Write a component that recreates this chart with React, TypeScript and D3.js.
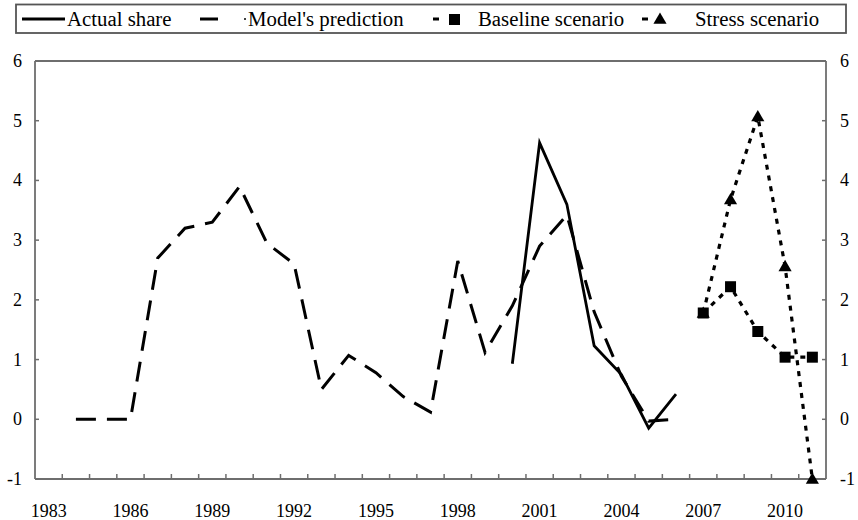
import React from 'react';
import * as d3 from 'd3';

const years = [
  1983, 1984, 1985, 1986, 1987, 1988, 1989, 1990, 1991, 1992,
  1993, 1994, 1995, 1996, 1997, 1998, 1999, 2000, 2001, 2002,
  2003, 2004, 2005, 2006, 2007, 2008, 2009, 2010, 2011
];
const yTicks = [-1, 0, 1, 2, 3, 4, 5, 6];
const xLabelYears = [1983, 1986, 1989, 1992, 1995, 1998, 2001, 2004, 2007, 2010];

const actualYears = [2000, 2001, 2002, 2003, 2004, 2005, 2006];
const actualShare = [0.93, 4.63, 3.6, 1.23, 0.75, -0.15, 0.42];

const modelYears = [
  1984, 1985, 1986, 1987, 1988, 1989, 1990, 1991, 1992, 1993, 1994, 1995,
  1996, 1997, 1998, 1999, 2000, 2001, 2002, 2003, 2004, 2005, 2006
];
const modelPrediction = [
  0, 0, 0, 2.7, 3.2, 3.3, 3.9, 2.95, 2.6, 0.5, 1.07, 0.78,
  0.38, 0.12, 2.65, 1.12, 1.9, 2.9, 3.42, 1.8, 0.72, -0.03, 0
];

const scenarioYears = [2007, 2008, 2009, 2010, 2011];
const baselineScenario = [1.78, 2.22, 1.47, 1.04, 1.04];
const stressScenario = [1.78, 3.68, 5.07, 2.56, -1];

const W = 858;
const H = 520;
const margin = {left: 35, right: 32, top: 61, bottom: 41};
const FONT = "'Liberation Serif', 'Times New Roman', serif";
const AXIS = '#6e6e6e';

export default function App() {
  const x = d3.scaleBand<number>()
    .domain(years)
    .range([margin.left, W - margin.right])
    .paddingInner(0)
    .paddingOuter(0);
  const y = d3.scaleLinear()
    .domain([-1, 6])
    .range([H - margin.bottom, margin.top]);

  const cx = (yr: number) => (x(yr) as number) + x.bandwidth() / 2;

  const line = (xs: number[], vals: number[]) =>
    d3.line<number>()
      .x((d, i) => cx(xs[i]))
      .y(d => y(d))(vals) as string;

  const x0 = margin.left;
  const x1 = W - margin.right;
  const yTop = y(6);
  const yBot = y(-1);

  const tri = d3.symbol().type(d3.symbolTriangle).size(75)() as string;
  const txt = {fontFamily: FONT};
  const LF = 20.8;

  return (
    <svg width={W} height={H} style={{position: 'absolute', left: 0, top: 0, background: '#fff'}}>
      {/* legend */}
      <g>
        <rect x={16} y={4.5} width={830} height={28.5} fill="none" stroke="#555" strokeWidth={1.8} />
        <line x1={22} x2={65} y1={19} y2={19} stroke="#000" strokeWidth={3} />
        <text x={67} y={26} fontSize={LF} style={txt}>Actual share</text>
        <line x1={200} x2={218} y1={19} y2={19} stroke="#000" strokeWidth={3} />
        <circle cx={245} cy={19} r={1} fill="#000" />
        <text x={248} y={26} fontSize={LF} style={txt}>Model's prediction</text>
        <line x1={433} x2={439} y1={19} y2={19} stroke="#000" strokeWidth={3} />
        <rect x={449} y={14} width={11} height={11} fill="#000" />
        <text x={478} y={26} fontSize={LF} style={txt}>Baseline scenario</text>
        <line x1={642} x2={648} y1={19} y2={19} stroke="#000" strokeWidth={3} />
        <path d={tri} transform="translate(660,20)" fill="#000" />
        <text x={695} y={26} fontSize={LF} style={txt}>Stress scenario</text>
      </g>

      {/* frame */}
      <line x1={x0} x2={x1} y1={yTop} y2={yTop} stroke={AXIS} strokeWidth={1.8} />
      <line x1={x0} x2={x1} y1={yBot} y2={yBot} stroke={AXIS} strokeWidth={1.8} />
      <line x1={x0} x2={x0} y1={yTop} y2={yBot} stroke={AXIS} strokeWidth={1.8} />
      <line x1={x1} x2={x1} y1={yTop} y2={yBot} stroke={AXIS} strokeWidth={1.8} />

      {/* y ticks */}
      {yTicks.map(t => (
        <g key={'y' + t}>
          <line x1={x0} x2={x0 + 4} y1={y(t)} y2={y(t)} stroke={AXIS} strokeWidth={1.5} />
          <line x1={x1 - 4} x2={x1} y1={y(t)} y2={y(t)} stroke={AXIS} strokeWidth={1.5} />
          <text x={22} y={y(t) + 6} fontSize={18} textAnchor="end" style={txt}>{t}</text>
          <text x={840} y={y(t) + 6} fontSize={18} style={txt}>{t}</text>
        </g>
      ))}

      {/* x ticks */}
      {years.slice(1).map(yr => (
        <line key={'xt' + yr} x1={x(yr)} x2={x(yr)} y1={yBot} y2={yBot - 5} stroke={AXIS} strokeWidth={1.5} />
      ))}
      {xLabelYears.map(yr => (
        <text key={'xl' + yr} x={cx(yr)} y={517} fontSize={18} textAnchor="middle" style={txt}>{yr}</text>
      ))}

      {/* series */}
      <path d={line(modelYears, modelPrediction)} fill="none" stroke="#000" strokeWidth={3}
        strokeDasharray="20,11" />
      <path d={line(actualYears, actualShare)} fill="none" stroke="#000" strokeWidth={2.8} />
      <path d={line(scenarioYears, stressScenario)} fill="none" stroke="#000" strokeWidth={3.2}
        strokeDasharray="5,6" />
      <path d={line(scenarioYears, baselineScenario)} fill="none" stroke="#000" strokeWidth={3.2}
        strokeDasharray="5,6" />
      {scenarioYears.map((yr, i) => (
        <path key={'st' + yr} d={tri} transform={`translate(${cx(yr)},${y(stressScenario[i]) + 1})`} fill="#000" />
      ))}
      {scenarioYears.map((yr, i) => (
        <rect key={'bs' + yr} x={cx(yr) - 5.5} y={y(baselineScenario[i]) - 5.5} width={11} height={11} fill="#000" />
      ))}
    </svg>
  );
}
